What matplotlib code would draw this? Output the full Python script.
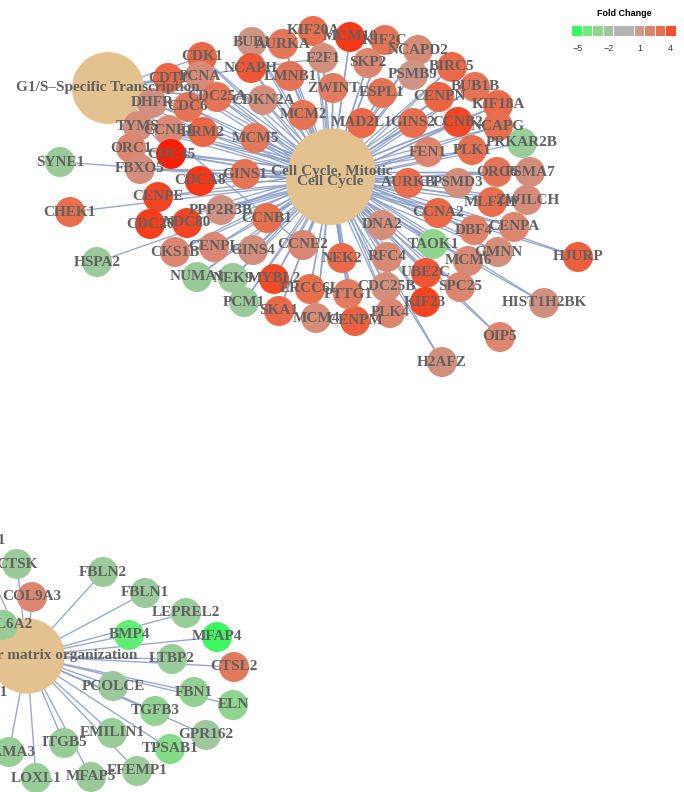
"""Gene-concept network of enriched pathways, coloured by fold change."""

import numpy as np
import matplotlib.pyplot as plt
from matplotlib.colors import LinearSegmentedColormap
from matplotlib.patches import Circle

# --- pathway (hub) nodes -------------------------------------------------
hub_names = ["G1/S\u2013Specific Transcription", "Cell Cycle, Mitotic", "Cell Cycle",
             "Extracellular matrix organization"]
hub_x = [108, 332, 330, 27]
hub_y = [88, 172, 181, 656]

# --- gene nodes: name, layout x, layout y, fold change --------------------
cc_genes = ["BUB1", "AURKA", "KIF20A", "MCM10", "KIF2C", "NCAPD2", "E2F1", "SKP2",
            "PSMB9", "BIRC5", "BUB1B", "CENPN", "KIF18A", "CCNB2", "NCAPG", "PRKAR2B",
            "PLK1", "FEN1", "GINS2", "MAD2L1", "ESPL1", "ZWINT", "LMNB1", "NCAPH",
            "CDK1", "PCNA", "CDT1", "CDC25A", "CDKN2A", "DHFR", "CDC6", "MCM2",
            "MCM5", "TYMS", "CCNE1", "RRM2", "ORC1", "CDC45", "FBXO5", "SYNE1",
            "CDCA8", "GINS1", "CENPE", "CHEK1", "CDC20", "NDC80", "PPP2R3B", "CCNB1",
            "CKS1B", "CENPL", "GINS4", "CCNE2", "HSPA2", "NUMA1", "NEK9", "MYBL2",
            "PCM1", "ERCC6L", "SKA1", "MCM4", "CENPM", "PTTG1", "NEK2", "DNA2",
            "RFC4", "CDC25B", "PLK4", "UBE2C", "KIF23", "TAOK1", "CCNA2", "AURKB",
            "PSMD3", "ORC6", "PSMA7", "MLF1IP", "ZWILCH", "DBF4", "CENPA", "GMNN",
            "MCM6", "SPC25", "HJURP", "HIST1H2BK", "OIP5", "H2AFZ"]
cc_x = [252, 283, 313, 350, 385, 418, 323, 368,
        413, 452, 475, 439, 498, 458, 498, 522,
        472, 428, 413, 362, 382, 333, 290, 251,
        202, 200, 168, 217, 263, 152, 188, 303,
        255, 138, 169, 203, 131, 171, 140, 60,
        200, 245, 158, 70, 150, 187, 221, 267,
        175, 214, 253, 303, 97, 197, 233, 274,
        244, 310, 279, 316, 355, 348, 342, 382,
        387, 386, 390, 426, 425, 433, 438, 408,
        458, 497, 530, 492, 527, 474, 514, 498,
        468, 460, 578, 544, 500, 442]
cc_y = [42, 44, 31, 37, 40, 50, 58, 63,
        75, 67, 87, 97, 105, 122, 126, 143,
        150, 152, 123, 123, 93, 88, 76, 68,
        57, 76, 78, 97, 100, 103, 107, 115,
        138, 126, 130, 132, 148, 154, 169, 162,
        181, 174, 197, 212, 224, 223, 210, 218,
        252, 247, 250, 245, 262, 277, 278, 279,
        302, 289, 311, 318, 321, 294, 258, 225,
        257, 287, 313, 273, 302, 244, 213, 183,
        183, 172, 172, 202, 200, 230, 227, 252,
        261, 287, 257, 303, 337, 362]
cc_fc = [1.3, 2.7, 3.0, 5.0, 2.8, 1.8, 1.5, 2.0,
         1.3, 3.2, 2.8, 3.4, 3.2, 4.4, 3.0, -2.4,
         3.0, 2.0, 3.0, 3.2, 2.8, 2.5, 2.8, 3.8,
         3.3, 1.7, 3.3, 2.8, 1.6, 1.5, 2.8, 2.8,
         2.6, 1.6, 1.8, 3.3, 2.0, 6.0, 1.6, -2.3,
         5.0, 2.8, 4.5, 3.0, 4.8, 4.5, 1.4, 3.0,
         2.0, 1.9, 1.5, 1.9, -2.3, -2.3, -2.3, 4.3,
         -2.3, 3.0, 3.2, 1.7, 3.5, 2.5, 3.2, 1.6,
         1.8, 1.6, 2.0, 3.8, 4.5, -3.0, 3.2, 3.0,
         1.5, 2.8, 1.6, 3.0, 1.7, 2.2, 2.0, 1.6,
         1.8, 2.0, 3.6, 1.5, 2.0, 1.5]

g1s_members = ["CDK1", "CDT1", "PCNA", "CDC25A", "DHFR", "CDC6", "TYMS", "CCNE1",
               "RRM2", "E2F1", "ORC1", "CDC45", "CCNE2", "CDKN2A"]
cc_only = ["SYNE1", "HSPA2", "CHEK1", "PRKAR2B"]

ecm_genes = ["COL5A1", "CTSK", "COL9A3", "COL6A2", "FBLN2", "FBLN1", "LEPREL2", "BMP4",
             "MFAP4", "LTBP2", "CTSL2", "PCOLCE", "FBN1", "ELN", "TGFB3", "GPR162",
             "EMILIN1", "ITGB5", "TPSAB1", "LAMA3", "EFEMP1", "MFAP5", "LOXL1", "COL6A1"]
ecm_x = [-24, 17, 32, 3, 103, 145, 186, 129,
         217, 172, 234, 113, 194, 233, 155, 206,
         112, 64, 170, 9, 137, 91, 36, -22]
ecm_y = [541, 564, 597, 625, 572, 593, 613, 635,
         637, 659, 667, 686, 692, 705, 711, 735,
         733, 743, 749, 752, 771, 777, 778, 693]
ecm_fc = [-2.5, -2.3, 2.0, -2.4, -2.3, -2.3, -2.4, -4.2,
          -4.8, -2.4, 2.6, -2.2, -2.7, -3.0, -2.8, -2.2,
          -2.5, -2.5, -3.3, -2.5, -2.4, -2.3, -2.5, -2.5]

# --- colour scale ----------------------------------------------------------
fc_stops = [-6, -5, -4, -3, -2, -1, 0, 1, 2, 3, 4, 6]
fc_colors = ["#00ff3c", "#33fb5c", "#6fe97c", "#8ed68e", "#a0c4a0", "#b3b3b3",
             "#b3b3b3", "#c99a8d", "#dc8670", "#e7704f", "#ef5230", "#ff1e00"]
legend_values = [-5, -4, -3, -2, -1, 0, 1, 2, 3, 4]
legend_ticks = [-5, -2, 1, 4]

lo, hi = fc_stops[0], fc_stops[-1]
cmap = LinearSegmentedColormap.from_list(
    "fc", [((v - lo) / (hi - lo), c) for v, c in zip(fc_stops, fc_colors)])


def fc_color(v):
    return cmap((v - lo) / (hi - lo))


HUB_COLOR = "#E3C290"
EDGE_COLOR = "#8DA0CB"
TEXT_COLOR = "#616161"
GENE_R = 15

# hub radius grows with the number of genes attached
hub_counts = np.array([len(g1s_members), len(cc_genes) - len(cc_only), len(cc_genes),
                       len(ecm_genes)])
hub_r = 36 + (np.sqrt(hub_counts) - np.sqrt(14)) / (np.sqrt(86) - np.sqrt(14)) * 8

fig = plt.figure(figsize=(6.84, 7.92), dpi=100)
ax = fig.add_axes([0, 0, 1, 1])
ax.set_xlim(0, 684)
ax.set_ylim(792, 0)
ax.axis("off")

genes = {}
for names, xs, ys, fcs in [(cc_genes, cc_x, cc_y, cc_fc), (ecm_genes, ecm_x, ecm_y, ecm_fc)]:
    for n, x, y, f in zip(names, xs, ys, fcs):
        genes[n] = (x, y, f)

# edges
edges = []
for n in cc_genes:
    edges.append((2, n))
    if n not in cc_only:
        edges.append((1, n))
    if n in g1s_members:
        edges.append((0, n))
for n in ecm_genes:
    edges.append((3, n))
for h, n in edges:
    gx, gy, _ = genes[n]
    ax.plot([hub_x[h], gx], [hub_y[h], gy], color=EDGE_COLOR, lw=1.0, alpha=0.9,
            zorder=1, solid_capstyle="butt")

# nodes
for i in range(len(hub_names)):
    ax.add_patch(Circle((hub_x[i], hub_y[i]), hub_r[i], color=HUB_COLOR, lw=0, zorder=2))
for n, (x, y, f) in genes.items():
    ax.add_patch(Circle((x, y), GENE_R, color=fc_color(f), lw=0, zorder=2))

# labels
lab = dict(family=["Liberation Serif", "DejaVu Serif"], fontweight="bold", fontsize=11,
           color=TEXT_COLOR, ha="center", va="center", zorder=3)
for n, (x, y, f) in genes.items():
    ax.text(x, y, n, **lab)
for i, n in enumerate(hub_names):
    ax.text(hub_x[i], hub_y[i], n, **lab)

# fold change legend
lax = fig.add_axes([572 / 684, 1 - 36 / 792, 104 / 684, 10 / 792])
lax.bar(legend_values, [1] * len(legend_values), width=0.94,
        color=[fc_color(v) for v in legend_values])
lax.set_xlim(-5.5, 4.5)
lax.set_ylim(0, 1)
lax.set_yticks([])
lax.set_xticks(legend_ticks)
lax.set_xticklabels([f"{t:d}".replace("-", "\u2212") for t in legend_ticks],
                    family="Liberation Sans", fontsize=6.5, color="#333333")
lax.tick_params(axis="x", length=0, pad=6)
for s in lax.spines.values():
    s.set_visible(False)
lax.set_title("Fold Change", family="Liberation Sans", fontweight="bold",
              fontsize=6.5, pad=7)

fig.savefig("out.png", dpi=100)
